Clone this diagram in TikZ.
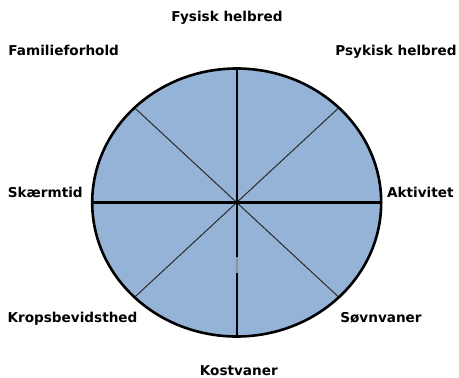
\documentclass[tikz,border=0pt]{standalone}
\usepackage{fontspec}
\setmainfont{DejaVu Sans}
\usetikzlibrary{calc}
\definecolor{wheelblue}{HTML}{95B3D7}
\definecolor{spokegray}{HTML}{2A2A2A}

\begin{document}
\begin{tikzpicture}[x=1pt,y=-1pt]
        \useasboundingbox (0,0) rectangle (459,378);

        % the wheel
        \coordinate (c) at (236.7,202.5);
        \coordinate (n) at (236.7,68.5);
        \coordinate (s) at (236.7,336.5);
        \coordinate (w) at (92.2,202.5);
        \coordinate (e) at (381.2,202.5);
        \coordinate (nw) at ($(c)+(-102.2,-94.8)$);
        \coordinate (ne) at ($(c)+(102.2,-94.8)$);
        \coordinate (sw) at ($(c)+(-102.2,94.8)$);
        \coordinate (se) at ($(c)+(102.2,94.8)$);

        \fill [wheelblue] (c) ellipse [x radius=144.5, y radius=134];

        \begin{scope}[every path/.style={draw=spokegray,line width=1pt}]
            \path (c) -- (nw);
            \path (c) -- (ne);
            \path (c) -- (sw);
            \path (c) -- (se);
        \end{scope}

        \begin{scope}[every path/.style={draw=black,line width=2.2pt}]
            \path (n) -- (s);
            \path (w) -- (e);
        \end{scope}
        \fill [gray!85] (235.8,257) rectangle (237.6,273);

        \draw [line width=2.6pt] (c) ellipse [x radius=144.5, y radius=134];

        % labels
        \begin{scope}[every node/.style={anchor=base,inner sep=0pt,font=\bfseries\fontsize{13.6}{15}\selectfont}]
            \node (fysisk) at (227,21.7) {Fysisk helbred};
            \node (familie) at (63.7,55.7) {Familieforhold};
            \node (psykisk) at (396,55.7) {Psykisk helbred};
            \node (skaerm) at (45.3,197.3) {Skærmtid};
            \node (aktiv) at (420.3,197.3) {Aktivitet};
            \node (krop) at (72.5,322.3) {Kropsbevidsthed};
            \node (soevn) at (381,322.3) {Søvnvaner};
            \node (kost) at (238.8,375) {Kostvaner};
        \end{scope}
    \end{tikzpicture}
\end{document}
